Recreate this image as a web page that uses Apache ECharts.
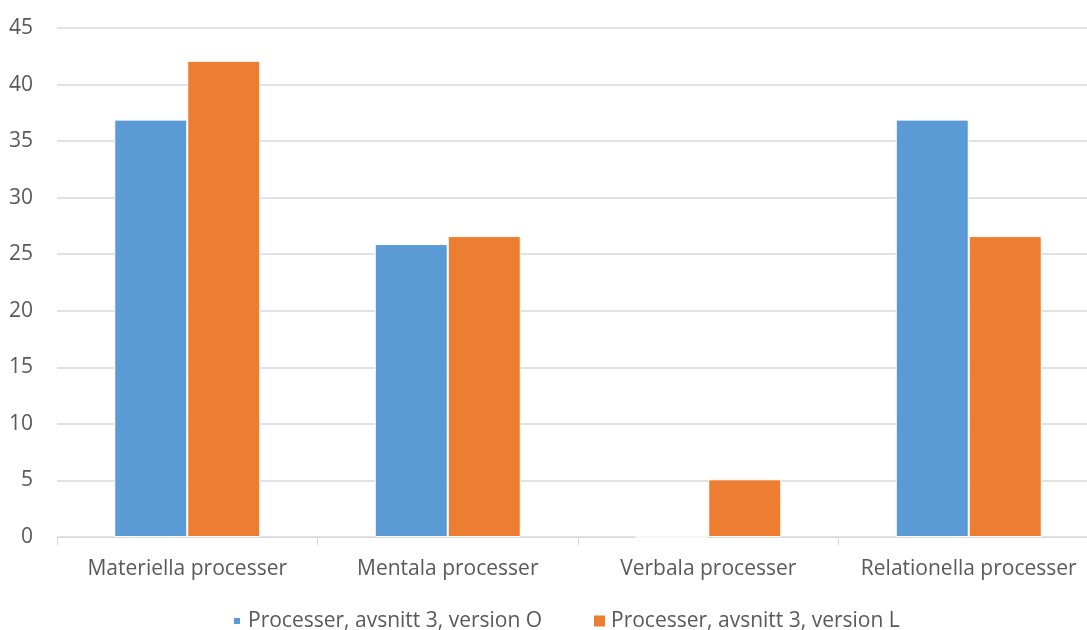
<!DOCTYPE html>
<html>
<head>
<meta charset="utf-8">
<script src="https://cdn.jsdelivr.net/npm/echarts@6/dist/echarts.min.js"></script>
<style>
  html, body { margin: 0; padding: 0; background: #fff; overflow: hidden; }
  #chart { width: 1100px; height: 630px; }
</style>
</head>
<body>
<div id="chart"></div>
<script>
// Process categories and the two series (percent)
const categories = ['Materiella processer', 'Mentala processer', 'Verbala processer', 'Relationella processer'];
const seriesNames = ['Processer, avsnitt 3, version O', 'Processer, avsnitt 3, version L'];
const versionO = [36.9, 25.9, 0, 36.9];
const versionL = [42.1, 26.6, 5.1, 26.6];
const yTicks = { min: 0, max: 45, interval: 5 };

const textColor = '#595959';
const gridColor = '#d9d9d9';
const font = '"Open Sans", "Liberation Sans", sans-serif';
const fontSize = 21;

const chart = echarts.init(document.getElementById('chart'), null, { renderer: 'canvas' });

chart.setOption({
  animation: false,
  backgroundColor: '#fff',
  grid: { left: 57, right: 1, top: 28, bottom: 93, containLabel: false },
  legend: [
    {
      data: [seriesNames[0]],
      left: 232, top: 608, padding: 0,
      itemWidth: 8, itemHeight: 8,
      icon: 'rect',
      textStyle: { color: textColor, fontSize: fontSize, fontFamily: font, lineHeight: 26, padding: [0, 0, 0, 2] }
    },
    {
      data: [seriesNames[1]],
      left: 592, top: 608, padding: 0,
      itemWidth: 13, itemHeight: 13,
      icon: 'rect',
      textStyle: { color: textColor, fontSize: fontSize, fontFamily: font, lineHeight: 26, padding: [0, 0, 0, 0] }
    }
  ],
  xAxis: {
    type: 'category',
    data: categories,
    axisLine: { show: true, lineStyle: { color: gridColor, width: 1 } },
    axisTick: { show: true, interval: 0, length: 8, lineStyle: { color: gridColor } },
    axisLabel: { interval: 0, hideOverlap: false, color: textColor, fontSize: fontSize, fontFamily: font, margin: 22 }
  },
  yAxis: {
    type: 'value',
    min: yTicks.min, max: yTicks.max, interval: yTicks.interval,
    axisLine: { show: false },
    axisTick: { show: false },
    splitLine: { lineStyle: { color: gridColor, width: 1.5 } },
    axisLabel: { color: textColor, fontSize: fontSize, fontFamily: font, margin: 24 }
  },
  series: [
    {
      name: seriesNames[0],
      type: 'bar',
      data: versionO,
      barWidth: 73,
      barGap: '0%',
      itemStyle: { color: '#5b9bd5', borderColor: '#fff', borderWidth: 1 }
    },
    {
      name: seriesNames[1],
      type: 'bar',
      data: versionL,
      barWidth: 73,
      itemStyle: { color: '#ed7d31', borderColor: '#fff', borderWidth: 1 }
    }
  ]
});
</script>
</body>
</html>
